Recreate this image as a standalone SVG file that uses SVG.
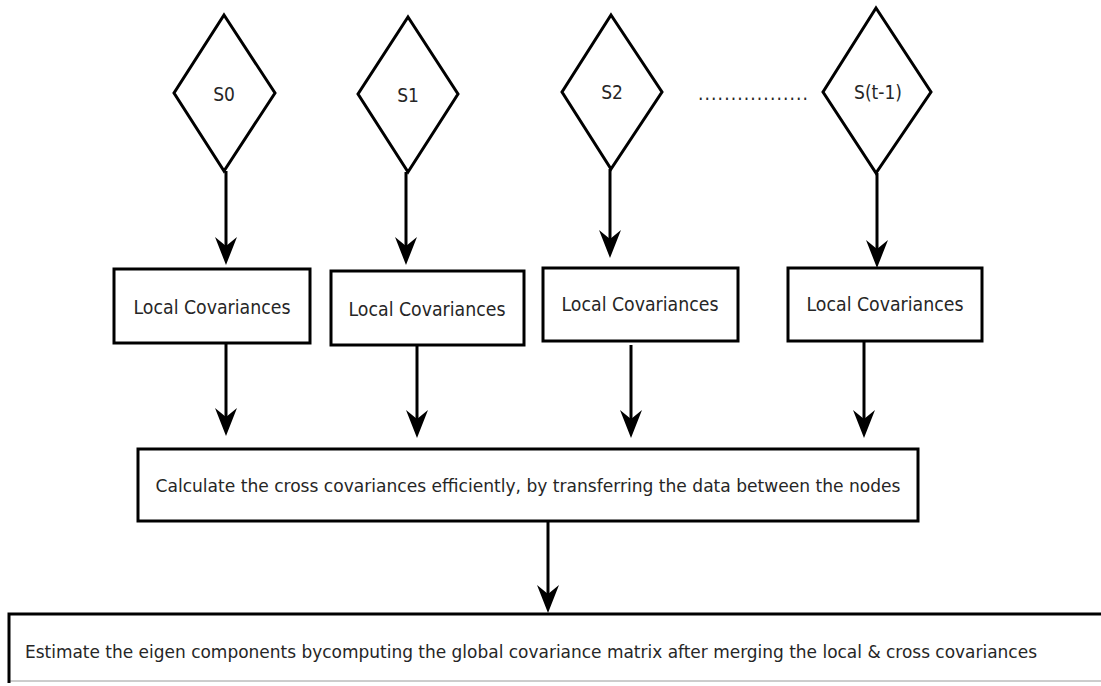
<svg xmlns="http://www.w3.org/2000/svg" width="1101" height="686" viewBox="0 0 1101 686">
  <style>
    .shape { fill: #ffffff; stroke: #000000; stroke-width: 3; }
    .label { font-family: "DejaVu Sans Condensed", "DejaVu Sans", sans-serif; fill: #262626; text-anchor: middle; }
    .edge { fill: none; stroke: #000000; stroke-width: 3; marker-end: url(#barb); }
  </style>
  <defs>
    <!-- barbed arrowhead; tip sits 10 units beyond the line end -->
    <marker id="barb" markerUnits="userSpaceOnUse" viewBox="-20 -12 32 24" markerWidth="32" markerHeight="24" refX="0" refY="0" orient="auto">
      <path d="M10,0 L-18,-11 L-9,0 L-18,11 Z" fill="#000000"/>
    </marker>
  </defs>

  <rect width="1101" height="686" fill="#ffffff"/>

  <!-- source nodes -->
  <g id="s0">
    <polygon class="shape" points="224,15 275,93 224,171 174,93"/>
    <text class="label" x="224" y="101" font-size="19">S0</text>
  </g>
  <g id="s1">
    <polygon class="shape" points="408,17 458,94 408,172 358,94"/>
    <text class="label" x="408" y="102" font-size="19">S1</text>
  </g>
  <g id="s2">
    <polygon class="shape" points="611,15 662,92 611,169 562,92"/>
    <text class="label" x="612" y="99" font-size="19">S2</text>
  </g>
  <g id="ellipsis">
    <text class="label" x="698" y="100" font-size="19" style="text-anchor:start" textLength="110" lengthAdjust="spacing">.................</text>
  </g>
  <g id="st1">
    <polygon class="shape" points="876,8 931,92 876,173 823,92"/>
    <text class="label" x="878" y="99" font-size="19">S(t-1)</text>
  </g>

  <!-- local covariance nodes -->
  <g id="local0">
    <rect class="shape" x="114" y="269" width="196" height="74"/>
    <text class="label" x="212" y="314" font-size="19" textLength="157" lengthAdjust="spacingAndGlyphs">Local Covariances</text>
  </g>
  <g id="local1">
    <rect class="shape" x="331" y="271" width="193" height="74"/>
    <text class="label" x="427" y="316" font-size="19" textLength="157" lengthAdjust="spacingAndGlyphs">Local Covariances</text>
  </g>
  <g id="local2">
    <rect class="shape" x="543" y="268" width="195" height="73"/>
    <text class="label" x="640" y="311" font-size="19" textLength="157" lengthAdjust="spacingAndGlyphs">Local Covariances</text>
  </g>
  <g id="local3">
    <rect class="shape" x="788" y="268" width="194" height="73"/>
    <text class="label" x="885" y="311" font-size="19" textLength="157" lengthAdjust="spacingAndGlyphs">Local Covariances</text>
  </g>

  <!-- cross covariance node -->
  <g id="cross">
    <rect class="shape" x="138" y="449" width="780" height="72"/>
    <text class="label" x="528" y="492" font-size="18" textLength="745" lengthAdjust="spacingAndGlyphs">Calculate the cross covariances efficiently, by transferring the data between the nodes</text>
  </g>

  <!-- eigen estimation node -->
  <g id="eigen">
    <rect x="9" y="614" width="1100" height="67" fill="#ffffff" stroke="#9a9a9a" stroke-width="1"/>
    <path d="M9,683 L9,614 L1101,614" fill="none" stroke="#000000" stroke-width="3"/>
    <text class="label" x="531" y="658" font-size="18" textLength="1012" lengthAdjust="spacingAndGlyphs">Estimate the eigen components bycomputing the global covariance matrix after merging the local &amp; cross covariances</text>
  </g>

  <!-- connectors -->
  <g id="edges">
    <line class="edge" x1="226" y1="171" x2="226" y2="255"/>
    <line class="edge" x1="406" y1="172" x2="406" y2="255"/>
    <line class="edge" x1="610" y1="169" x2="610" y2="248"/>
    <line class="edge" x1="877" y1="173" x2="877" y2="258"/>

    <line class="edge" x1="226" y1="343" x2="226" y2="426"/>
    <line class="edge" x1="417" y1="345" x2="417" y2="428"/>
    <line class="edge" x1="631" y1="345" x2="631" y2="428"/>
    <line class="edge" x1="864" y1="341" x2="864" y2="428"/>

    <line class="edge" x1="548" y1="521" x2="548" y2="603"/>
  </g>
</svg>
